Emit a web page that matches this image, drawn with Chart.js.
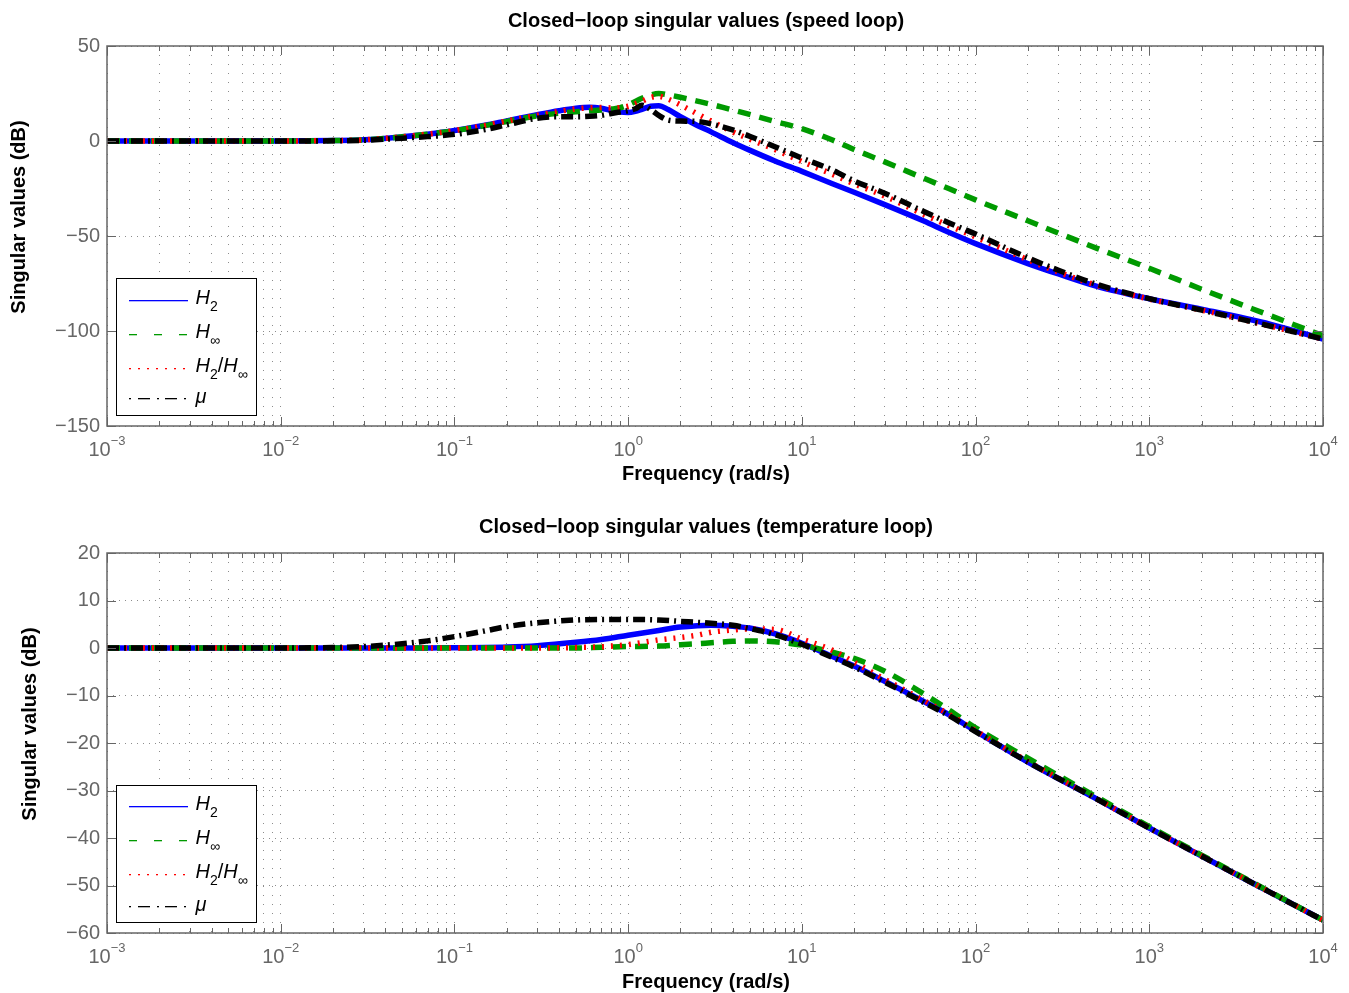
<!DOCTYPE html>
<html><head><meta charset="utf-8">
<script src="https://cdn.jsdelivr.net/npm/chart.js@4.4.1/dist/chart.umd.min.js"></script>
<style>
html,body{margin:0;padding:0;background:#fff;}
#wrap{position:relative;width:1349px;height:993px;overflow:hidden;}
.box{position:absolute;left:0;width:1349px;}
</style></head><body>
<div id="wrap">
<div class="box" style="top:0;height:496px"><canvas id="c1"></canvas></div>
<div class="box" style="top:496px;height:497px"><canvas id="c2"></canvas></div>
</div>
<script>
// ---------------- data ----------------
const freqSpeed = [0.001, 0.01, 0.02, 0.03, 0.05, 0.07, 0.1, 0.15, 0.2, 0.3, 0.4, 0.5, 0.6, 0.7, 0.8, 0.9, 1, 1.1, 1.2, 1.35, 1.5, 1.7, 2, 2.5, 3, 4, 5, 7, 10, 15, 20, 30, 50, 70, 100, 200, 300, 500, 1000, 2000, 5000, 10000];
const speedH2   = [0, 0, 0.2, 0.6, 2.2, 3.6, 5.5, 8.3, 10.6, 13.8, 15.9, 17.2, 17.7, 17.2, 16.1, 15.2, 15.0, 15.6, 16.7, 18.3, 18.6, 16.6, 12.8, 8.2, 4.8, -0.8, -4.8, -10.5, -16, -22.5, -27, -33.5, -42, -48, -54, -64.5, -70, -76.5, -83, -88.5, -96.5, -104.2];
const speedHinf = [0, 0, 0.2, 0.6, 2.2, 3.6, 5.4, 8.1, 10.3, 13.2, 14.6, 15.4, 15.9, 16.3, 16.8, 17.5, 19.0, 20.8, 22.5, 24.2, 25.0, 24.3, 23.0, 21.0, 19.3, 16.3, 14.0, 10.3, 6.5, 0.5, -4.5, -11, -19.5, -25, -31, -42, -48.5, -56.5, -67, -78, -92, -102.5];
const speedMix  = [0, 0, 0.2, 0.6, 2.2, 3.6, 5.5, 8.2, 10.5, 13.6, 15.6, 16.9, 17.5, 17.6, 17.4, 17.6, 18.3, 19.6, 21.0, 23.0, 23.5, 22.0, 19.0, 14.3, 10.5, 4.8, 1.0, -4.5, -10.8, -17.5, -22.5, -29, -38.5, -44.5, -50.5, -62.5, -69, -76, -83.2, -89, -97.5, -104.2];
const speedMu   = [0, 0, 0.1, 0.4, 1.5, 2.3, 3.5, 6.0, 8.5, 12.0, 12.8, 12.8, 13.0, 13.5, 14.5, 15.3, 16.0, 17.0, 18.8, 16.5, 13.5, 11.0, 10.5, 10.3, 9.0, 5.8, 2.5, -3, -9, -15.3, -21, -27.5, -37, -43, -49, -61.5, -68, -75.5, -83, -89, -97.5, -104.2];

const freqTemp = [0.001, 0.01, 0.02, 0.03, 0.05, 0.07, 0.1, 0.15, 0.2, 0.3, 0.5, 0.7, 1, 1.5, 2, 2.5, 3, 4, 5, 7, 10, 15, 20, 30, 50, 70, 100, 200, 500, 1000, 2000, 5000, 10000];
const tempH2   = [0, 0, 0, 0, 0, 0, 0.05, 0.1, 0.2, 0.5, 1.2, 1.8, 2.7, 3.7, 4.4, 4.7, 4.8, 4.6, 4.2, 3.0, 1.0, -1.8, -3.8, -7.0, -11.2, -14.0, -17.5, -24.0, -31.8, -37.9, -43.8, -51.5, -57.3];
const tempHinf = [0, 0, 0, 0, 0, 0, 0, 0, 0, 0, 0, 0.15, 0.3, 0.4, 0.7, 0.9, 1.1, 1.4, 1.5, 1.3, 0.6, -0.9, -2.2, -4.9, -9.6, -13.0, -16.8, -23.2, -31.4, -37.6, -43.6, -51.4, -57.3];
const tempMix  = [0, 0, 0, 0, 0, 0, 0, 0, 0, 0, 0.1, 0.25, 0.7, 1.7, 2.2, 2.7, 3.3, 3.8, 4.0, 3.9, 1.9, -0.5, -3.0, -6.6, -11.0, -13.9, -17.4, -23.9, -31.8, -37.9, -43.8, -51.5, -57.3];
const tempMu   = [0, 0, 0.1, 0.3, 0.9, 1.5, 2.4, 3.6, 4.5, 5.3, 5.9, 6.0, 6.0, 5.9, 5.6, 5.4, 5.2, 4.8, 4.1, 2.8, 0.8, -2.0, -4.0, -7.2, -11.4, -14.2, -17.6, -24.0, -31.8, -37.9, -43.8, -51.5, -57.3];

const xDecadeExponents = [-3, -2, -1, 0, 1, 2, 3, 4];
const speedYRange = [-150, 50, 50];
const tempYRange = [-60, 20, 10];
const speedTitle = 'Closed\u2212loop singular values (speed loop)';
const tempTitle = 'Closed\u2212loop singular values (temperature loop)';
const xTitle = 'Frequency (rad/s)';
const yTitle = 'Singular values (dB)';
const legendEntries = [
  [{t:'H', it:true}, {t:'2', sub:true}],
  [{t:'H', it:true}, {t:'\u221E', sub:true}],
  [{t:'H', it:true}, {t:'2', sub:true}, {t:'/'}, {t:'H', it:true}, {t:'\u221E', sub:true}],
  [{t:'\u03BC', it:true}]
];

// ---------------- styling ----------------
const FONT = "'Liberation Sans', Arial, Helvetica, sans-serif";
const GRAY = '#666666';
const xTickValues = [];
for (let e = -3; e < 4; e++) for (let m = 1; m < 10; m++) xTickValues.push(m * Math.pow(10, e));
xTickValues.push(1e4);

const LINE_COLORS = ['#0000ff', '#009a00', '#ff0000', '#000000'];
const LINE_DASHES = [[], [13, 9], [2, 7], [12, 5, 2, 5]];
const LINE_ORDER = [4, 3, 2, 1];
const LEGEND_DASHES = [[], [8, 17], [1.5, 7.5], [1.5, 7, 12, 7]];

function richText(ctx, x, y, parts) {
  parts.forEach(p => {
    const size = p.sub ? 14 : 20;
    ctx.font = (p.it ? 'italic ' : '') + size + 'px ' + FONT;
    ctx.fillText(p.t, x, p.sub ? y + 7 : y);
    x += ctx.measureText(p.t).width;
  });
}

// draws a horizontal legend sample using filled segments
function legendSample(ctx, x0, x1, y, pattern, color, h) {
  ctx.fillStyle = color;
  if (!pattern.length) { ctx.fillRect(x0, y, x1 - x0, h); return; }
  let x = x0, k = 0, on = true;
  while (x < x1) {
    const e = Math.min(x + pattern[k % pattern.length], x1);
    if (on) ctx.fillRect(Math.round(x), y, Math.max(1, Math.round(e - x)), h);
    x = e; k++; on = !on;
  }
}

function makePlugin(opt) {
  return {
    id: 'matlabDecor',
    afterDraw(chart) {
      const {ctx, chartArea: a, scales: {x, y}} = chart;
      const cx = (a.left + a.right) / 2 - 9;
      ctx.save();
      // inward tick marks
      ctx.strokeStyle = GRAY; ctx.lineWidth = 1; ctx.setLineDash([]);
      ctx.beginPath();
      xTickValues.forEach(v => {
        const px = Math.round(x.getPixelForValue(v)) + 0.5;
        const lg = Math.log10(v);
        const major = Math.abs(lg - Math.round(lg)) < 1e-9;
        const len = major ? 9 : 5;
        ctx.moveTo(px, a.bottom); ctx.lineTo(px, a.bottom - len);
        ctx.moveTo(px, a.top); ctx.lineTo(px, a.top + len);
      });
      y.ticks.forEach(t => {
        const py = Math.round(y.getPixelForValue(t.value)) + 0.5;
        ctx.moveTo(a.left, py); ctx.lineTo(a.left + 9, py);
        ctx.moveTo(a.right, py); ctx.lineTo(a.right - 9, py);
      });
      ctx.stroke();
      // box
      ctx.lineWidth = 1.5;
      ctx.strokeRect(a.left, a.top, a.right - a.left, a.bottom - a.top);
      // x tick labels with superscripts
      ctx.fillStyle = GRAY;
      ctx.textBaseline = 'alphabetic';
      ctx.textAlign = 'left';
      xDecadeExponents.forEach(e => {
        const px = x.getPixelForValue(Math.pow(10, e));
        const base = '10';
        const sup = e < 0 ? '\u2212' + (-e) : String(e);
        ctx.font = '20px ' + FONT;
        const w1 = ctx.measureText(base).width;
        ctx.font = '13px ' + FONT;
        const w2 = ctx.measureText(sup).width;
        const x0 = px - (w1 + w2) / 2;
        ctx.font = '20px ' + FONT;
        ctx.fillText(base, x0, a.bottom + 30);
        ctx.font = '13px ' + FONT;
        ctx.fillText(sup, x0 + w1, a.bottom + 19);
      });
      // titles
      ctx.fillStyle = '#000';
      ctx.font = 'bold 20px ' + FONT;
      ctx.textAlign = 'center';
      ctx.textBaseline = 'middle';
      ctx.fillText(opt.title, cx, opt.titleY);
      ctx.fillText(xTitle, cx, a.bottom + opt.xTitleDy);
      ctx.save();
      ctx.translate(opt.yTitleX, (a.top + a.bottom) / 2 - 19);
      ctx.rotate(-Math.PI / 2);
      ctx.fillText(yTitle, 0, 0);
      ctx.restore();
      // legend
      const W = 140, H = 137;
      const L = Math.round(a.left + 9) + 0.5, T = Math.round(a.bottom - 11 - H) + 0.5;
      ctx.fillStyle = '#ffffff';
      ctx.fillRect(L, T, W, H);
      ctx.strokeStyle = '#000000'; ctx.lineWidth = 1; ctx.setLineDash([]);
      ctx.strokeRect(L, T, W, H);
      const rowY = [21, 55, 89, 120];
      legendEntries.forEach((parts, i) => {
        const absY = opt.canvasTop + T + rowY[i];
        const ly = 2 * Math.round(absY / 2) - opt.canvasTop;
        legendSample(ctx, Math.round(L + 12), Math.round(L + 71), ly, LEGEND_DASHES[i], LINE_COLORS[i], 1.3);
        ctx.fillStyle = '#000000';
        ctx.textAlign = 'left'; ctx.textBaseline = 'alphabetic';
        richText(ctx, L + 79, ly + (i === 3 ? 5 : 4), parts);
      });
      ctx.restore();
    }
  };
}

function buildDatasets(freq, seriesList) {
  return seriesList.map((vals, i) => ({
    data: freq.map((f, k) => ({x: f, y: vals[k]})),
    borderColor: LINE_COLORS[i],
    backgroundColor: LINE_COLORS[i],
    borderWidth: 5.5,
    borderDash: LINE_DASHES[i].slice(),
    borderCapStyle: 'butt',
    borderJoinStyle: 'round',
    pointRadius: 0,
    fill: false,
    cubicInterpolationMode: 'monotone',
    order: LINE_ORDER[i]
  }));
}

function makeChart(id, opt) {
  const [ymin, ymax, ystep] = opt.yRange;
  return new Chart(document.getElementById(id), {
    type: 'line',
    data: { datasets: buildDatasets(opt.freq, opt.series) },
    options: {
      responsive: true,
      maintainAspectRatio: false,
      animation: false,
      events: [],
      layout: { padding: { left: 0, right: 26, top: opt.topPad, bottom: 0 } },
      plugins: {
        legend: { display: false },
        tooltip: { enabled: false },
        title: { display: false }
      },
      scales: {
        x: {
          type: 'logarithmic', min: 1e-3, max: 1e4,
          afterBuildTicks: s => { s.ticks = xTickValues.map(v => ({ value: v })); },
          afterFit: s => { s.height = opt.xHeight; },
          ticks: { display: false, autoSkip: false },
          grid: { color: '#8c8c8c', lineWidth: 1, drawTicks: false },
          border: { display: false, dash: [1, 8] },
          title: { display: false }
        },
        y: {
          type: 'linear', min: ymin, max: ymax,
          afterFit: s => { s.width = 107; },
          ticks: {
            stepSize: ystep, color: GRAY, padding: 7,
            font: { family: FONT, size: 20 },
            callback: v => (v < 0 ? '\u2212' + (-v) : String(v))
          },
          grid: { color: '#8c8c8c', lineWidth: 1, drawTicks: false },
          border: { display: false, dash: [1, 5] }
        }
      }
    },
    plugins: [makePlugin(opt)]
  });
}

makeChart('c1', {
  freq: freqSpeed, series: [speedH2, speedHinf, speedMix, speedMu],
  yRange: speedYRange, title: speedTitle, titleY: 21, canvasTop: 0,
  topPad: 46, xHeight: 70, xTitleDy: 48, yTitleX: 19
});
makeChart('c2', {
  freq: freqTemp, series: [tempH2, tempHinf, tempMix, tempMu],
  yRange: tempYRange, title: tempTitle, titleY: 31, canvasTop: 496,
  topPad: 57, xHeight: 60, xTitleDy: 49, yTitleX: 30
});
</script>
</body></html>
